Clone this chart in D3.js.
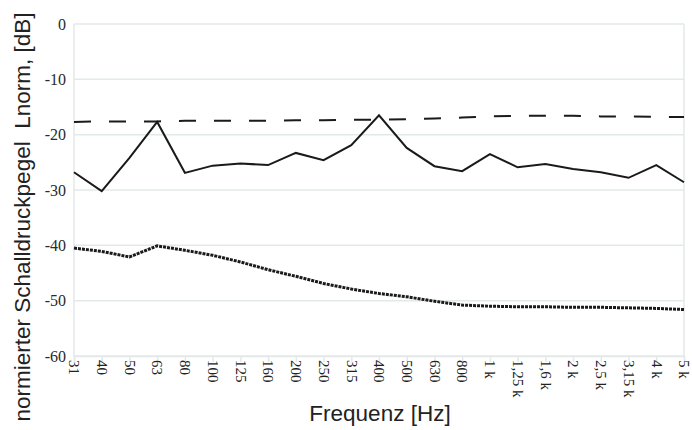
<!DOCTYPE html>
<html>
<head>
<meta charset="utf-8">
<script src="https://cdn.jsdelivr.net/npm/d3@7"></script>
<style>
  body { margin: 0; background: #fff; }
</style>
</head>
<body>
<div id="chart"></div>
<script>
// frequency bands (terz), as printed on the axis
var bands = ["31", "40", "50", "63", "80", "100", "125", "160", "200", "250", "315", "400",
             "500", "630", "800", "1 k", "1,25 k", "1,6 k", "2 k", "2,5 k", "3,15 k", "4 k", "5 k"];

// measured level (solid)
var measured = [-26.8, -30.2, -24.2, -17.7, -26.9, -25.6, -25.2, -25.5, -23.3, -24.6, -21.9, -16.5,
                -22.4, -25.7, -26.6, -23.5, -25.9, -25.3, -26.2, -26.8, -27.8, -25.5, -28.6];

// limit curve (dashed)
var limit = [-17.7, -17.6, -17.6, -17.6, -17.5, -17.5, -17.5, -17.5, -17.4, -17.4, -17.3, -17.3,
             -17.2, -17.1, -16.9, -16.7, -16.6, -16.6, -16.6, -16.7, -16.7, -16.8, -16.8];

// background (dotted)
var background = [-40.5, -41.1, -42.1, -40.1, -40.9, -41.8, -43.0, -44.4, -45.6, -46.9, -47.9, -48.7,
                  -49.3, -50.1, -50.8, -51.0, -51.1, -51.1, -51.2, -51.2, -51.3, -51.4, -51.6];

var yTicks = [0, -10, -20, -30, -40, -50, -60];

var W = 692, H = 430;
var margin = {top: 24, right: 8, bottom: 74, left: 74};
var width = W - margin.left - margin.right,
    height = H - margin.top - margin.bottom;

var serif = "'Liberation Serif', 'Times New Roman', serif";
var sans = "'Liberation Sans', Arial, sans-serif";

var svg = d3.select("#chart").append("svg")
    .attr("width", W)
    .attr("height", H);

var g = svg.append("g")
    .attr("transform", "translate(" + margin.left + "," + margin.top + ")");

var x = d3.scalePoint().domain(bands).range([0, width]);
var y = d3.scaleLinear().domain([-60, 0]).range([height, 0]);

// grid
g.selectAll(".grid")
    .data(yTicks)
    .enter().append("line")
    .attr("class", "grid")
    .attr("x1", 0).attr("x2", width)
    .attr("y1", function (d) { return y(d); })
    .attr("y2", function (d) { return y(d); })
    .attr("stroke", "#e3e9e9")
    .attr("stroke-width", 1.5);

// frame left/right
g.append("line").attr("x1", 0).attr("x2", 0).attr("y1", 0).attr("y2", height)
    .attr("stroke", "#e3e9e9").attr("stroke-width", 1.5);
g.append("line").attr("x1", width).attr("x2", width).attr("y1", 0).attr("y2", height)
    .attr("stroke", "#e3e9e9").attr("stroke-width", 1.5);

// y axis
var yAxis = g.append("g")
    .call(d3.axisLeft(y).tickValues(yTicks).tickSize(0).tickPadding(8)
        .tickFormat(function (d) { return String(d); }));
yAxis.select(".domain").remove();
yAxis.selectAll("text")
    .style("font-family", serif)
    .style("font-size", "16px")
    .attr("fill", "#2a2a2a");

// x axis
var xAxis = g.append("g")
    .attr("transform", "translate(0," + height + ")")
    .call(d3.axisBottom(x).tickSize(6).tickPadding(4));
xAxis.select(".domain").attr("stroke", "#e3e9e9").attr("stroke-width", 1.5);
xAxis.selectAll(".tick line").attr("stroke", "#e3e9e9").attr("stroke-width", 1.5);
xAxis.selectAll("text")
    .style("font-family", serif)
    .style("font-size", "15px")
    .attr("fill", "#222")
    .attr("text-anchor", "start")
    .attr("dy", "0.35em")
    .attr("transform", "translate(0,4) rotate(90)")
    .attr("x", 0)
    .attr("y", 0);

var line = d3.line()
    .x(function (d, i) { return x(bands[i]); })
    .y(function (d) { return y(d); });

g.append("path").datum(background)
    .attr("d", line)
    .attr("fill", "none")
    .attr("stroke", "#1a1a1a")
    .attr("stroke-width", 3)
    .attr("stroke-dasharray", "3,1");

g.append("path").datum(limit)
    .attr("d", line)
    .attr("fill", "none")
    .attr("stroke", "#1a1a1a")
    .attr("stroke-width", 2)
    .attr("stroke-dasharray", "17,18");

g.append("path").datum(measured)
    .attr("d", line)
    .attr("fill", "none")
    .attr("stroke", "#1a1a1a")
    .attr("stroke-width", 2);

// axis titles
svg.append("text")
    .attr("transform", "translate(30,217) rotate(-90)")
    .attr("text-anchor", "middle")
    .style("font-family", sans)
    .style("font-size", "22.5px")
    .attr("fill", "#222")
    .style("white-space", "pre")
    .text("normierter Schalldruckpegel  Lnorm, [dB]");

svg.append("text")
    .attr("x", 380)
    .attr("y", 421)
    .attr("text-anchor", "middle")
    .style("font-family", sans)
    .style("font-size", "22.5px")
    .attr("fill", "#222")
    .text("Frequenz [Hz]");
</script>
</body>
</html>
